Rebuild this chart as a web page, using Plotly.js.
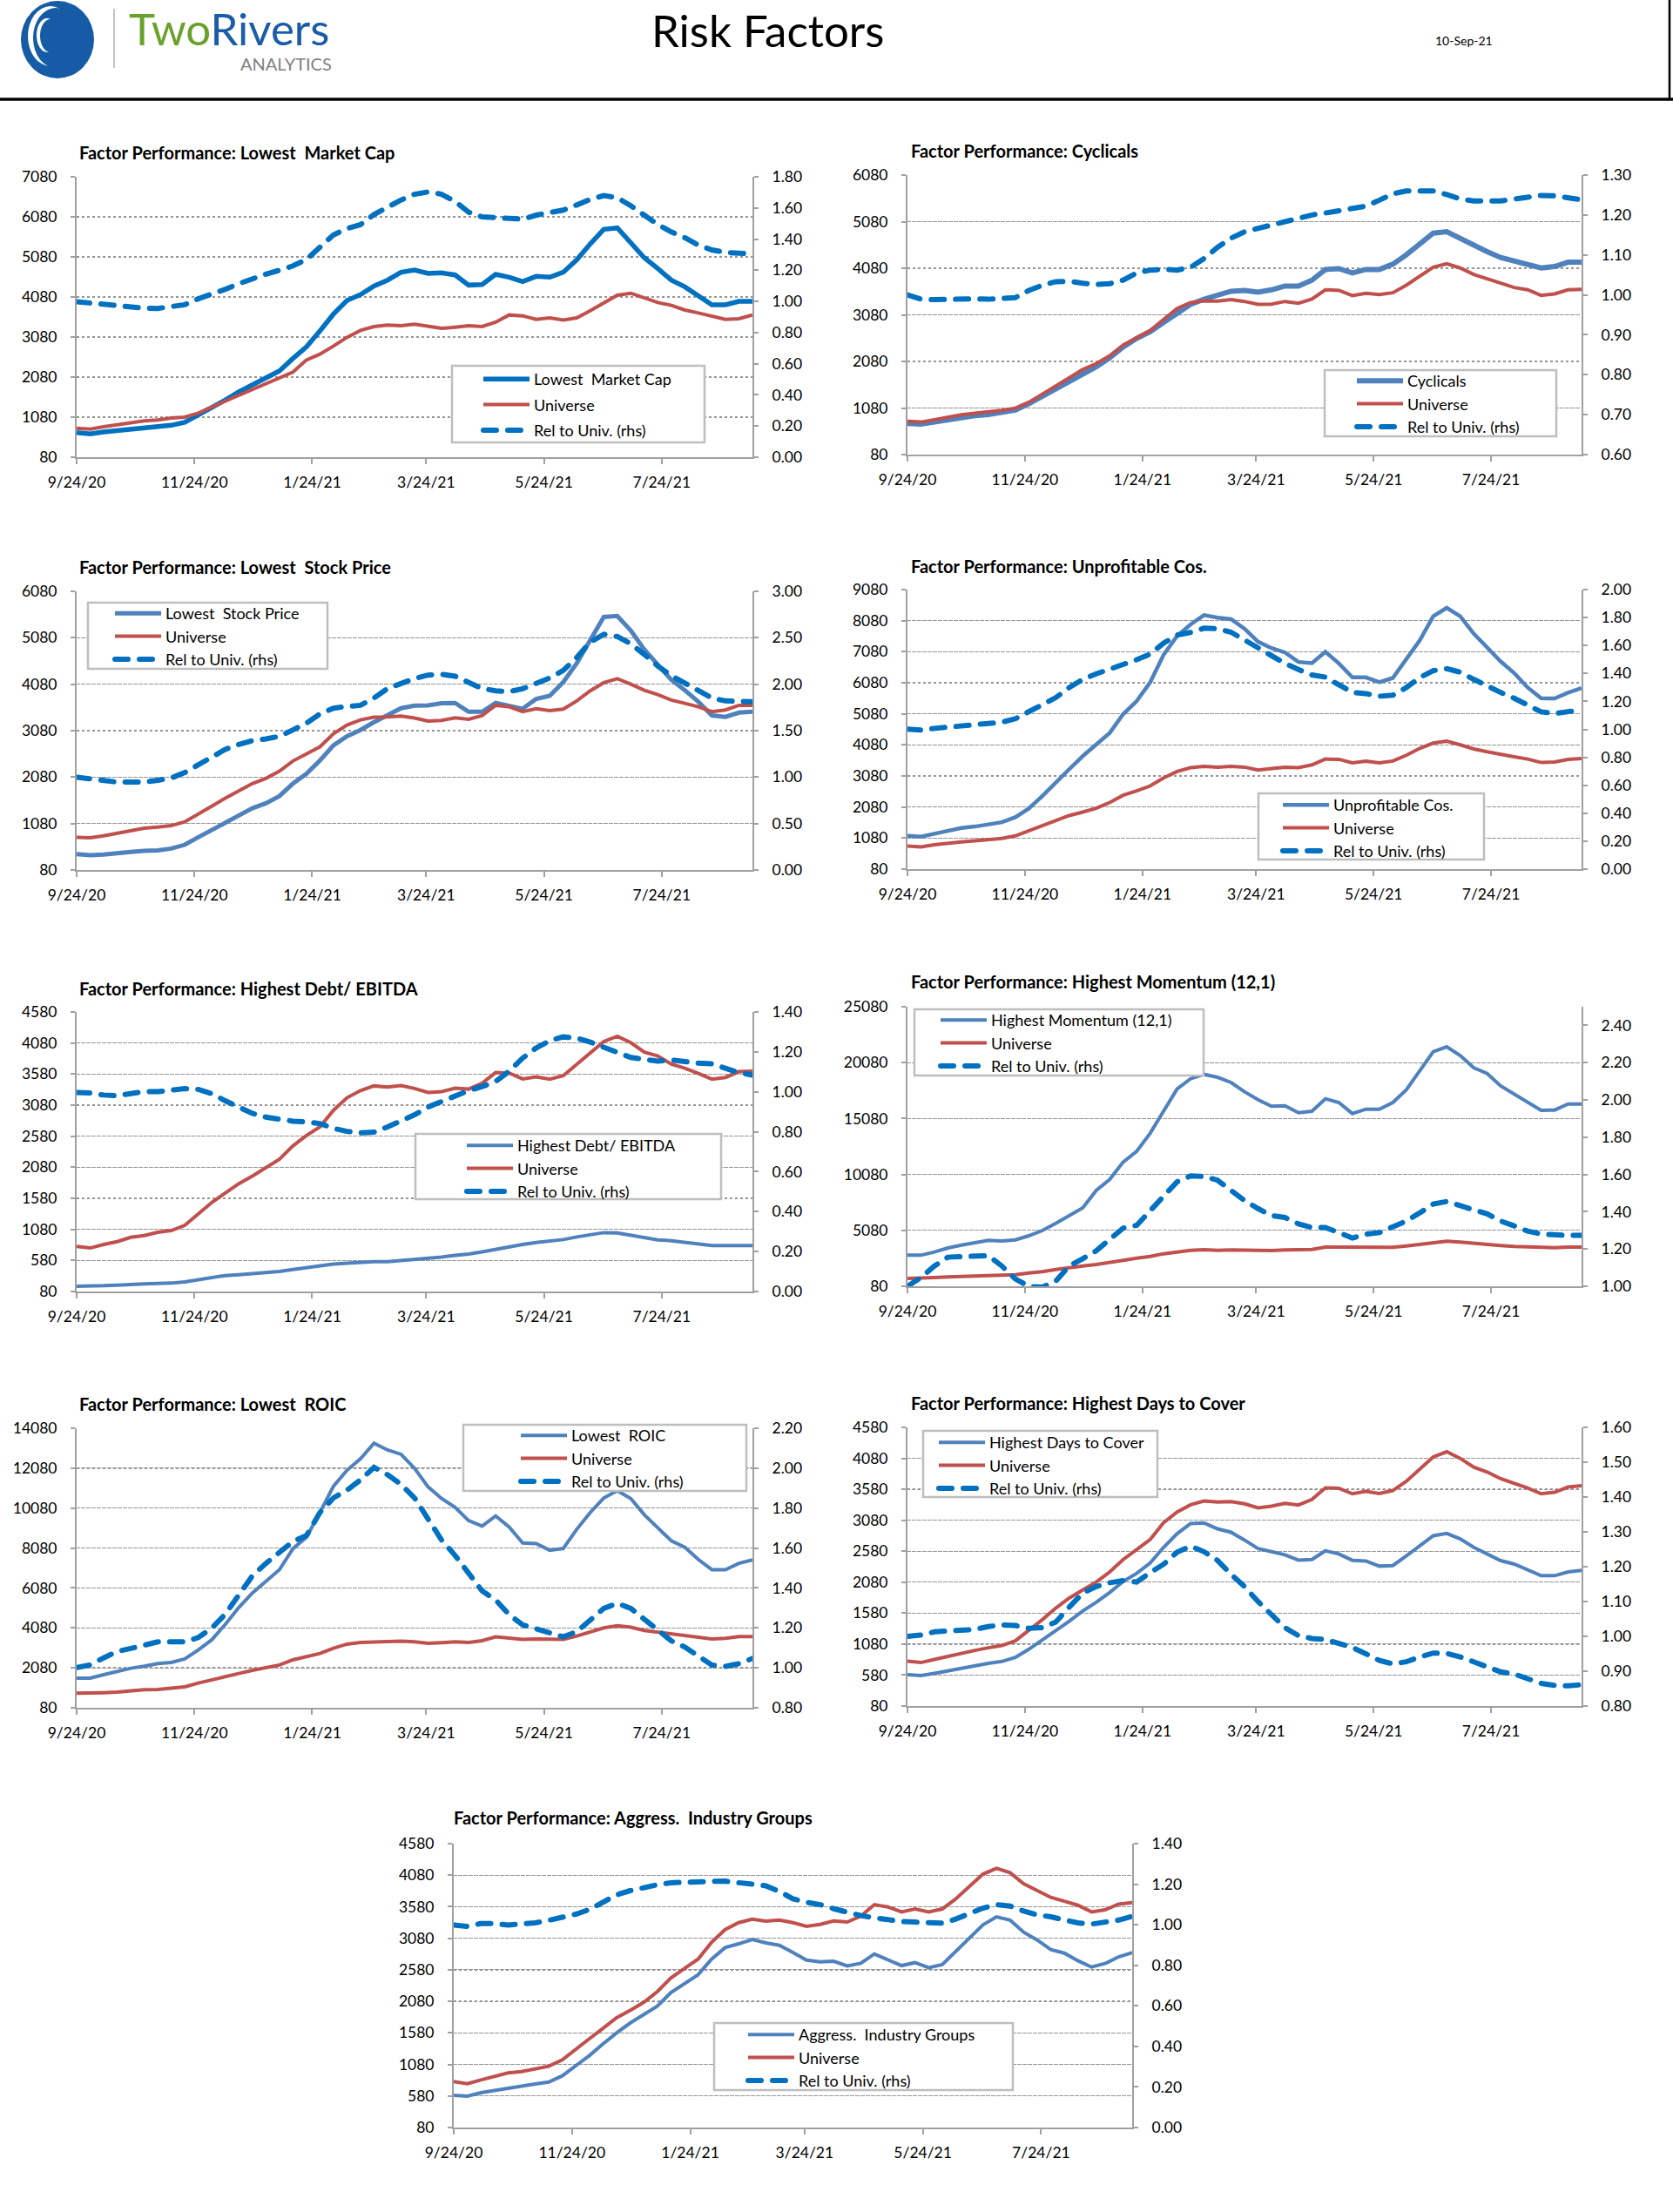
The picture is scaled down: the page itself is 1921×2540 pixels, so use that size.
<!DOCTYPE html>
<html>
<head>
<meta charset="utf-8">
<script src="https://cdn.plot.ly/plotly-3.0.1.min.js"></script>
<style>
html,body{margin:0;padding:0;background:#fff;}
#chart{width:1921px;height:2540px;}
</style>
</head>
<body>
<div id="chart"></div>
<script>
// ---------------- DATA ----------------
const START_DATE = '2020-09-24';
const N_WEEKS = 51;
const TICK_DATES = ['2020-09-24','2020-11-24','2021-01-24','2021-03-24','2021-05-24','2021-07-24'];
const TICK_LABELS = ['9/24/20','11/24/20','1/24/21','3/24/21','5/24/21','7/24/21'];
const REL_NAME = 'Rel to Univ. (rhs)';
const UNIV_NAME = 'Universe';

const mcapFactor = [696,660,710,747,783,820,855,877,950,1130,1312,1507,1710,1890,2058,2232,2544,2833,3232,3652,3993,4138,4355,4500,4696,4754,4667,4681,4630,4377,4391,4645,4573,4464,4594,4573,4696,5007,5406,5768,5804,5442,5058,4790,4500,4333,4102,3884,3884,3971,3971];
const mcapUniv = [805,783,841,892,935,986,1008,1058,1080,1181,1334,1478,1623,1768,1906,2036,2203,2507,2652,2855,3072,3246,3341,3377,3362,3399,3355,3297,3326,3362,3341,3450,3631,3609,3522,3558,3507,3558,3739,3942,4123,4174,4065,3942,3870,3754,3681,3609,3522,3536,3631];
const mcapRel = [0.998,0.989,0.983,0.972,0.961,0.957,0.955,0.965,0.979,1.017,1.045,1.078,1.114,1.147,1.175,1.200,1.228,1.269,1.343,1.427,1.468,1.493,1.558,1.608,1.651,1.688,1.703,1.688,1.642,1.573,1.543,1.537,1.532,1.528,1.554,1.567,1.586,1.619,1.655,1.679,1.666,1.614,1.549,1.493,1.446,1.409,1.362,1.330,1.315,1.310,1.304];

const cycFactor = [747,735,779,829,872,916,941,978,1034,1172,1328,1496,1671,1827,1964,2157,2388,2575,2719,2918,3118,3305,3417,3492,3586,3604,3567,3617,3698,3698,3823,4054,4072,3979,4054,4054,4166,4366,4603,4833,4865,4715,4553,4434,4309,4241,4178,4085,4116,4209,4209];
const cycUniv = [797,779,829,885,935,966,991,1028,1078,1203,1377,1558,1746,1908,2032,2201,2432,2594,2744,2981,3218,3342,3380,3374,3405,3367,3305,3311,3367,3330,3417,3617,3604,3492,3542,3517,3554,3717,3916,4103,4178,4085,3948,3854,3742,3667,3617,3498,3530,3617,3629];
const cycRel = [1.000,0.989,0.988,0.989,0.991,0.990,0.989,0.991,0.993,1.011,1.024,1.033,1.034,1.029,1.026,1.028,1.037,1.055,1.062,1.064,1.062,1.069,1.091,1.119,1.142,1.158,1.167,1.175,1.182,1.191,1.200,1.205,1.211,1.216,1.222,1.237,1.253,1.260,1.260,1.260,1.251,1.240,1.235,1.235,1.235,1.240,1.246,1.249,1.248,1.244,1.238];

const lspFactor = [423,398,411,430,467,492,504,542,623,785,929,1097,1254,1410,1516,1672,1940,2152,2439,2764,2958,3095,3263,3426,3563,3619,3625,3669,3675,3488,3488,3675,3607,3551,3763,3831,4125,4531,5030,5529,5548,5236,4824,4499,4175,3950,3700,3407,3376,3469,3488];
const lspUniv = [785,773,817,873,941,979,1004,1035,1116,1278,1453,1628,1784,1940,2052,2208,2427,2583,2733,3014,3201,3313,3370,3376,3395,3351,3288,3301,3357,3326,3407,3625,3594,3488,3551,3513,3544,3719,3938,4112,4200,4081,3950,3856,3738,3669,3594,3488,3526,3625,3625];
const lspRel = [0.999,0.977,0.955,0.946,0.946,0.946,0.965,0.990,1.049,1.136,1.211,1.299,1.352,1.392,1.411,1.439,1.508,1.580,1.680,1.742,1.761,1.773,1.851,1.954,2.007,2.061,2.098,2.107,2.086,2.014,1.954,1.929,1.920,1.951,2.014,2.067,2.148,2.288,2.454,2.538,2.513,2.435,2.320,2.195,2.092,2.007,1.929,1.851,1.820,1.814,1.811];

const unpFactor = [1152,1124,1218,1302,1404,1451,1516,1591,1749,2029,2430,2878,3297,3717,4090,4463,5069,5489,6095,6981,7587,7960,8259,8175,8128,7821,7401,7196,7056,6748,6711,7075,6702,6254,6254,6095,6235,6841,7447,8222,8492,8222,7662,7214,6767,6394,5927,5582,5573,5760,5909];
const unpUniv = [826,798,863,919,957,994,1031,1069,1152,1320,1479,1647,1805,1917,2038,2225,2458,2598,2757,3018,3223,3344,3391,3363,3391,3363,3269,3316,3363,3344,3437,3624,3615,3503,3559,3503,3559,3745,3969,4137,4202,4081,3950,3857,3764,3698,3624,3512,3531,3615,3643];
const unpRel = [1.001,0.995,1.007,1.016,1.022,1.026,1.034,1.051,1.076,1.125,1.171,1.227,1.299,1.358,1.397,1.428,1.465,1.498,1.538,1.617,1.675,1.693,1.724,1.720,1.695,1.637,1.581,1.523,1.472,1.428,1.389,1.374,1.316,1.264,1.256,1.237,1.244,1.299,1.370,1.420,1.434,1.409,1.358,1.306,1.264,1.223,1.175,1.125,1.113,1.125,1.140];

const debtFactor = [164,164,173,183,187,201,211,215,234,271,309,337,351,365,379,402,435,467,495,523,537,551,561,561,579,593,612,635,663,682,719,762,799,836,869,888,916,958,990,1028,1023,986,944,911,898,874,846,818,818,818,818];
const debtUniv = [804,780,836,883,953,981,1032,1060,1144,1331,1513,1667,1816,1938,2078,2209,2423,2591,2731,2997,3198,3315,3390,3371,3395,3348,3283,3297,3352,3338,3432,3604,3595,3502,3535,3498,3553,3731,3917,4104,4188,4085,3932,3871,3740,3674,3591,3498,3526,3619,3628];
const debtRel = [0.997,0.994,0.984,0.980,0.991,1.001,1.001,1.009,1.016,1.012,0.991,0.955,0.924,0.892,0.873,0.860,0.853,0.849,0.841,0.817,0.802,0.795,0.798,0.824,0.853,0.885,0.924,0.953,0.978,1.006,1.026,1.052,1.103,1.169,1.220,1.256,1.275,1.269,1.249,1.223,1.194,1.172,1.162,1.154,1.159,1.150,1.144,1.140,1.118,1.096,1.084];

const momFactor = [2858,2858,3143,3507,3766,3948,4182,4130,4234,4597,5064,5713,6440,7089,8647,9633,11191,12151,13761,15786,17733,18641,19031,18771,18304,17473,16772,16175,16227,15604,15734,16850,16512,15526,15916,15916,16512,17655,19290,21056,21497,20718,19628,19109,17992,17292,16565,15812,15838,16383,16383];
const momUniv = [781,781,859,911,963,1015,1041,1067,1118,1274,1378,1586,1767,1897,2027,2183,2390,2598,2754,2988,3169,3299,3351,3299,3325,3299,3247,3273,3325,3325,3377,3585,3585,3507,3533,3507,3559,3688,3844,4026,4104,4026,3896,3792,3714,3636,3585,3507,3533,3585,3585];
const momRel = [1.000,1.047,1.109,1.156,1.159,1.164,1.164,1.109,1.039,1.000,0.995,1.028,1.109,1.148,1.190,1.252,1.312,1.327,1.405,1.491,1.561,1.592,1.589,1.569,1.517,1.460,1.417,1.379,1.369,1.335,1.315,1.315,1.288,1.259,1.280,1.288,1.319,1.350,1.394,1.441,1.455,1.436,1.410,1.389,1.350,1.324,1.296,1.280,1.273,1.273,1.273];

const roicFactor = [1565,1565,1739,1914,2060,2161,2292,2351,2525,2977,3486,4258,5102,5830,6441,6994,8042,8624,9862,11172,11973,12554,13326,12991,12773,12074,11143,10560,10124,9454,9177,9687,9133,8333,8304,7969,8057,9017,9862,10589,10953,10560,9745,9104,8435,8115,7504,6994,6994,7314,7489];
const roicUniv = [808,808,837,866,939,982,997,1041,1128,1317,1492,1667,1798,1958,2089,2220,2482,2642,2802,3064,3268,3355,3384,3384,3413,3384,3311,3340,3384,3355,3442,3632,3573,3500,3530,3530,3500,3675,3865,4083,4185,4112,3952,3865,3777,3704,3632,3530,3559,3646,3646];
const roicRel = [1.002,1.014,1.050,1.082,1.097,1.112,1.130,1.130,1.130,1.152,1.199,1.269,1.363,1.461,1.523,1.582,1.633,1.662,1.778,1.851,1.890,1.941,2.004,1.967,1.919,1.851,1.749,1.640,1.563,1.473,1.385,1.340,1.266,1.215,1.193,1.174,1.155,1.181,1.240,1.298,1.323,1.298,1.243,1.189,1.135,1.104,1.055,1.014,1.007,1.021,1.047];

const dtcFactor = [585,571,608,651,693,735,768,800,866,997,1146,1301,1450,1614,1754,1913,2091,2222,2390,2643,2863,3027,3036,2942,2886,2760,2624,2573,2521,2437,2447,2587,2535,2433,2423,2339,2348,2503,2666,2830,2867,2779,2643,2540,2428,2372,2278,2185,2185,2245,2269];
const dtcUniv = [805,782,833,884,941,978,1020,1057,1132,1301,1474,1661,1824,1955,2082,2245,2447,2606,2769,3041,3214,3330,3391,3373,3382,3345,3279,3307,3354,3326,3415,3602,3597,3508,3546,3513,3560,3709,3915,4102,4186,4079,3938,3859,3751,3681,3602,3508,3532,3616,3639];
const dtcRel = [1.000,1.004,1.013,1.015,1.015,1.020,1.028,1.033,1.031,1.023,1.025,1.041,1.084,1.124,1.143,1.154,1.160,1.156,1.183,1.207,1.242,1.259,1.243,1.218,1.178,1.143,1.100,1.063,1.025,1.002,0.994,0.991,0.981,0.968,0.950,0.931,0.921,0.927,0.941,0.952,0.951,0.941,0.927,0.912,0.898,0.892,0.880,0.865,0.859,0.858,0.861];

const aigFactor = [591,577,632,669,706,742,770,802,899,1060,1221,1405,1580,1736,1865,2003,2219,2362,2500,2748,2932,2992,3061,3006,2969,2854,2734,2707,2716,2642,2684,2831,2739,2647,2693,2615,2661,2877,3093,3291,3420,3369,3176,3052,2900,2845,2725,2624,2679,2785,2854];
const aigUniv = [807,775,834,885,945,968,1014,1051,1152,1327,1488,1653,1819,1938,2063,2233,2449,2601,2748,3015,3217,3328,3383,3351,3369,3328,3268,3300,3355,3337,3429,3613,3576,3498,3544,3498,3544,3705,3898,4096,4188,4119,3944,3843,3728,3668,3604,3498,3530,3622,3645];
const aigRel = [0.999,0.992,1.006,1.006,0.999,1.002,1.009,1.022,1.035,1.052,1.075,1.114,1.147,1.168,1.185,1.197,1.207,1.211,1.211,1.214,1.215,1.207,1.204,1.192,1.164,1.128,1.111,1.099,1.079,1.059,1.045,1.034,1.023,1.016,1.013,1.011,1.008,1.028,1.054,1.082,1.099,1.092,1.068,1.049,1.039,1.023,1.009,1.003,1.012,1.023,1.042];

// ---------------- BUILD ----------------
const W = 1921, H = 2540;
const px = x => x / W;
const py = y => 1 - y / H;

const dates = [];
(function(){
  const d0 = new Date(START_DATE + 'T00:00:00Z');
  for (let i = 0; i < N_WEEKS; i++) {
    const d = new Date(d0.getTime() + i * 7 * 86400000);
    dates.push(d.toISOString().slice(0, 10));
  }
})();
const DATE_END = dates[dates.length - 1];

const BLUE = '#4F81BD', DBLUE = '#0070C0', RED = '#C0504D', AX = '#A0A0A0';

// box: plot area [left, top, right, bottom] px; lbox: legend frame px; ls: [line-sample start x, first row y]
const panels = [
  {title:'Factor Performance: Lowest  Market Cap', name:'Lowest  Market Cap', f:mcapFactor, u:mcapUniv, r:mcapRel,
   box:[88,203,864,525], left:[80,7080,1000], right:[0,1.8,0.2], fc:DBLUE, fw:5.5, uw:4, rw:6, tY:175, tX:89,
   lbox:[519,420,809,508], ls:[555,435], gap:3},
  {title:'Factor Performance: Cyclicals', name:'Cyclicals', f:cycFactor, u:cycUniv, r:cycRel,
   box:[1042,201,1816,522], left:[80,6080,1000], right:[0.6,1.3,0.1], fc:BLUE, fw:6, uw:4, rw:6, tY:173, tX:1044,
   lbox:[1521,425,1787,501], ls:[1558,437], gap:0},
  {title:'Factor Performance: Lowest  Stock Price', name:'Lowest  Stock Price', f:lspFactor, u:lspUniv, r:lspRel,
   box:[88,679,864,999], left:[80,6080,1000], right:[0,3,0.5], fc:BLUE, fw:5, uw:4, rw:6, tY:651, tX:89,
   lbox:[101,692,376,768], ls:[132,704], gap:0},
  {title:'Factor Performance: Unprofitable Cos.', name:'Unprofitable Cos.', f:unpFactor, u:unpUniv, r:unpRel,
   box:[1042,677,1816,998], left:[80,9080,1000], right:[0,2,0.2], fc:BLUE, fw:4.5, uw:4, rw:6, tY:650, tX:1044,
   lbox:[1445,911,1704,987], ls:[1473,924], gap:0},
  {title:'Factor Performance: Highest Debt/ EBITDA', name:'Highest Debt/ EBITDA', f:debtFactor, u:debtUniv, r:debtRel,
   box:[88,1162,864,1483], left:[80,4580,500], right:[0,1.4,0.2], fc:BLUE, fw:4, uw:4, rw:6, tY:1135, tX:89,
   lbox:[477,1302,828,1377], ls:[536,1315], gap:0},
  {title:'Factor Performance: Highest Momentum (12,1)', name:'Highest Momentum (12,1)', f:momFactor, u:momUniv, r:momRel,
   box:[1042,1156,1816,1477], left:[80,25080,5000], right:[1,2.5,0.2], fc:BLUE, fw:4, uw:4, rw:6, tY:1127, tX:1044,
   lbox:[1050,1159,1382,1235], ls:[1080,1171], gap:0},
  {title:'Factor Performance: Lowest  ROIC', name:'Lowest  ROIC', f:roicFactor, u:roicUniv, r:roicRel,
   box:[88,1640,864,1961], left:[80,14080,2000], right:[0.8,2.2,0.2], fc:BLUE, fw:4, uw:4, rw:6, tY:1612, tX:89,
   lbox:[532,1636,857,1712], ls:[598,1648], gap:0},
  {title:'Factor Performance: Highest Days to Cover', name:'Highest Days to Cover', f:dtcFactor, u:dtcUniv, r:dtcRel,
   box:[1042,1639,1816,1959], left:[80,4580,500], right:[0.8,1.6,0.1], fc:BLUE, fw:4, uw:4, rw:6, tY:1611, tX:1044,
   lbox:[1060,1643,1329,1719], ls:[1078,1656], gap:0},
  {title:'Factor Performance: Aggress.  Industry Groups', name:'Aggress.  Industry Groups', f:aigFactor, u:aigUniv, r:aigRel,
   box:[521,2117,1300,2443], left:[80,4580,500], right:[0,1.4,0.2], fc:BLUE, fw:4, uw:4, rw:6, tY:2087, tX:519,
   lbox:[820,2323,1163,2400], ls:[859,2336], gap:0}
];

const traces = [];
const layout = {
  width: W, height: H,
  margin: {l:0, r:0, t:0, b:0},
  paper_bgcolor: '#ffffff',
  plot_bgcolor: 'rgba(0,0,0,0)',
  font: {family: 'Lato, "Open Sans", sans-serif', size: 17, color: '#000'},
  showlegend: true,
  hovermode: false,
  shapes: [],
  annotations: []
};

const axCommon = {
  showline: true, linecolor: AX, linewidth: 2,
  ticks: 'outside', ticklen: 5, tickwidth: 2, tickcolor: AX,
  zeroline: false, fixedrange: true,
  tickfont: {family: 'Lato, sans-serif', size: 17.5, color: '#000'}
};

panels.forEach((p, k) => {
  const i = k + 1;
  const xid = 'x' + (i === 1 ? '' : i);
  const xkey = 'xaxis' + (i === 1 ? '' : i);
  const yl = 2 * i - 1, yr = 2 * i;
  const ylid = 'y' + (yl === 1 ? '' : yl), yrid = 'y' + yr;
  const ylkey = 'yaxis' + (yl === 1 ? '' : yl), yrkey = 'yaxis' + yr;
  const legid = 'legend' + (i === 1 ? '' : i);

  layout[xkey] = Object.assign({}, axCommon, {
    domain: [px(p.box[0]), px(p.box[2])], anchor: ylid, type: 'date',
    range: [dates[0], DATE_END], tickmode: 'array', tickvals: TICK_DATES, ticktext: TICK_LABELS,
    showgrid: false, ticklen: 6, ticklabelstandoff: 6
  });
  layout[ylkey] = Object.assign({}, axCommon, {
    domain: [py(p.box[3]), py(p.box[1])], anchor: xid,
    range: [p.left[0], p.left[1]], tickmode: 'linear', tick0: p.left[0], dtick: p.left[2], tickformat: 'd',
    showgrid: true, gridcolor: '#969696', griddash: 'dot', gridwidth: 1.3, ticklabelstandoff: 12
  });
  layout[yrkey] = Object.assign({}, axCommon, {
    overlaying: ylid, side: 'right', anchor: xid,
    range: [p.right[0], p.right[1]], tickmode: 'linear', tick0: p.right[0], dtick: p.right[2], tickformat: '.2f',
    showgrid: false, ticklabelstandoff: 12
  });
  layout[legid] = {
    x: px(p.ls[0] - 5), y: py(p.ls[1] - 18), xanchor: 'left', yanchor: 'top',
    bgcolor: 'rgba(255,255,255,0)', borderwidth: 0,
    font: {family: 'Lato, sans-serif', size: 18, color: '#000'},
    traceorder: 'grouped', tracegroupgap: p.gap, itemwidth: 53
  };
  // legend frame
  layout.shapes.push({type:'rect', xref:'paper', yref:'paper', layer:'above',
    x0:px(p.lbox[0]), x1:px(p.lbox[2]), y0:py(p.lbox[3]), y1:py(p.lbox[1]),
    fillcolor:'#ffffff', line:{color:'#BEBEBE', width:2.5}});

  traces.push({x: dates, y: p.f, name: p.name, type: 'scatter', mode: 'lines', xaxis: xid, yaxis: ylid,
    line: {color: p.fc, width: p.fw}, legend: legid, legendgroup: 'f' + i});
  traces.push({x: dates, y: p.u, name: UNIV_NAME, type: 'scatter', mode: 'lines', xaxis: xid, yaxis: ylid,
    line: {color: RED, width: p.uw}, legend: legid, legendgroup: 'u' + i});
  traces.push({x: dates, y: p.r, name: REL_NAME, type: 'scatter', mode: 'lines', xaxis: xid, yaxis: yrid,
    line: {color: DBLUE, width: p.rw, dash: '15px,13px'}, legend: legid, legendgroup: 'r' + i});

  layout.annotations.push({
    xref: 'paper', yref: 'paper', x: px(p.tX), y: py(p.tY), xanchor: 'left', yanchor: 'middle',
    text: '<b>' + p.title + '</b>', showarrow: false,
    font: {family: 'Lato, sans-serif', size: 20, color: '#000'}
  });
});

// ---------------- HEADER ----------------
const sh = layout.shapes;
sh.push({type:'line', xref:'paper', yref:'paper', x0:px(0), x1:px(1921), y0:py(114), y1:py(114), line:{color:'#000', width:3.5}});
sh.push({type:'line', xref:'paper', yref:'paper', x0:px(1917), x1:px(1917), y0:py(0), y1:py(114), line:{color:'#000', width:2.5}});
sh.push({type:'line', xref:'paper', yref:'paper', x0:px(131), x1:px(131), y0:py(10), y1:py(78), line:{color:'#9A9A9A', width:1.2}});
// logo
sh.push({type:'circle', xref:'paper', yref:'paper', x0:px(24), x1:px(108), y0:py(90), y1:py(1), fillcolor:'#155BA5', line:{width:0}});
sh.push({type:'circle', xref:'paper', yref:'paper', x0:px(32), x1:px(84), y0:py(76), y1:py(7), fillcolor:'#ffffff', line:{width:0}});
sh.push({type:'circle', xref:'paper', yref:'paper', x0:px(38), x1:px(90), y0:py(78), y1:py(9), fillcolor:'#155BA5', line:{width:0}});
sh.push({type:'circle', xref:'paper', yref:'paper', x0:px(42), x1:px(66), y0:py(60), y1:py(21), fillcolor:'#ffffff', line:{width:0}});
sh.push({type:'circle', xref:'paper', yref:'paper', x0:px(46), x1:px(70), y0:py(60), y1:py(22), fillcolor:'#155BA5', line:{width:0}});

const an = layout.annotations;
an.push({xref:'paper', yref:'paper', x:px(146), y:py(32), xanchor:'left', yanchor:'middle', showarrow:false,
  text:'<span style="color:#6AA02C">Two</span><span style="color:#1B5CA6">Rivers</span>',
  font:{family:'Lato, sans-serif', size:51}});
an.push({xref:'paper', yref:'paper', x:px(383), y:py(73), xanchor:'right', yanchor:'middle', showarrow:false,
  text:'ANALYTICS', font:{family:'Lato, sans-serif', size:20, color:'#7F7F7F'}});
an.push({xref:'paper', yref:'paper', x:px(881), y:py(35), xanchor:'center', yanchor:'middle', showarrow:false,
  text:'Risk Factors', font:{family:'Lato, sans-serif', size:51, color:'#000'}});
an.push({xref:'paper', yref:'paper', x:px(1646), y:py(46), xanchor:'left', yanchor:'middle', showarrow:false,
  text:'10-Sep-21', font:{family:'Lato, sans-serif', size:14, color:'#000'}});

Plotly.newPlot('chart', traces, layout, {staticPlot: true, displayModeBar: false}).then(() => {
  document.querySelectorAll('path').forEach(el => {
    const da = el.style.strokeDasharray || el.getAttribute('stroke-dasharray');
    if (da && da !== 'none') el.style.strokeLinecap = 'round';
  });
});
</script>
</body>
</html>
